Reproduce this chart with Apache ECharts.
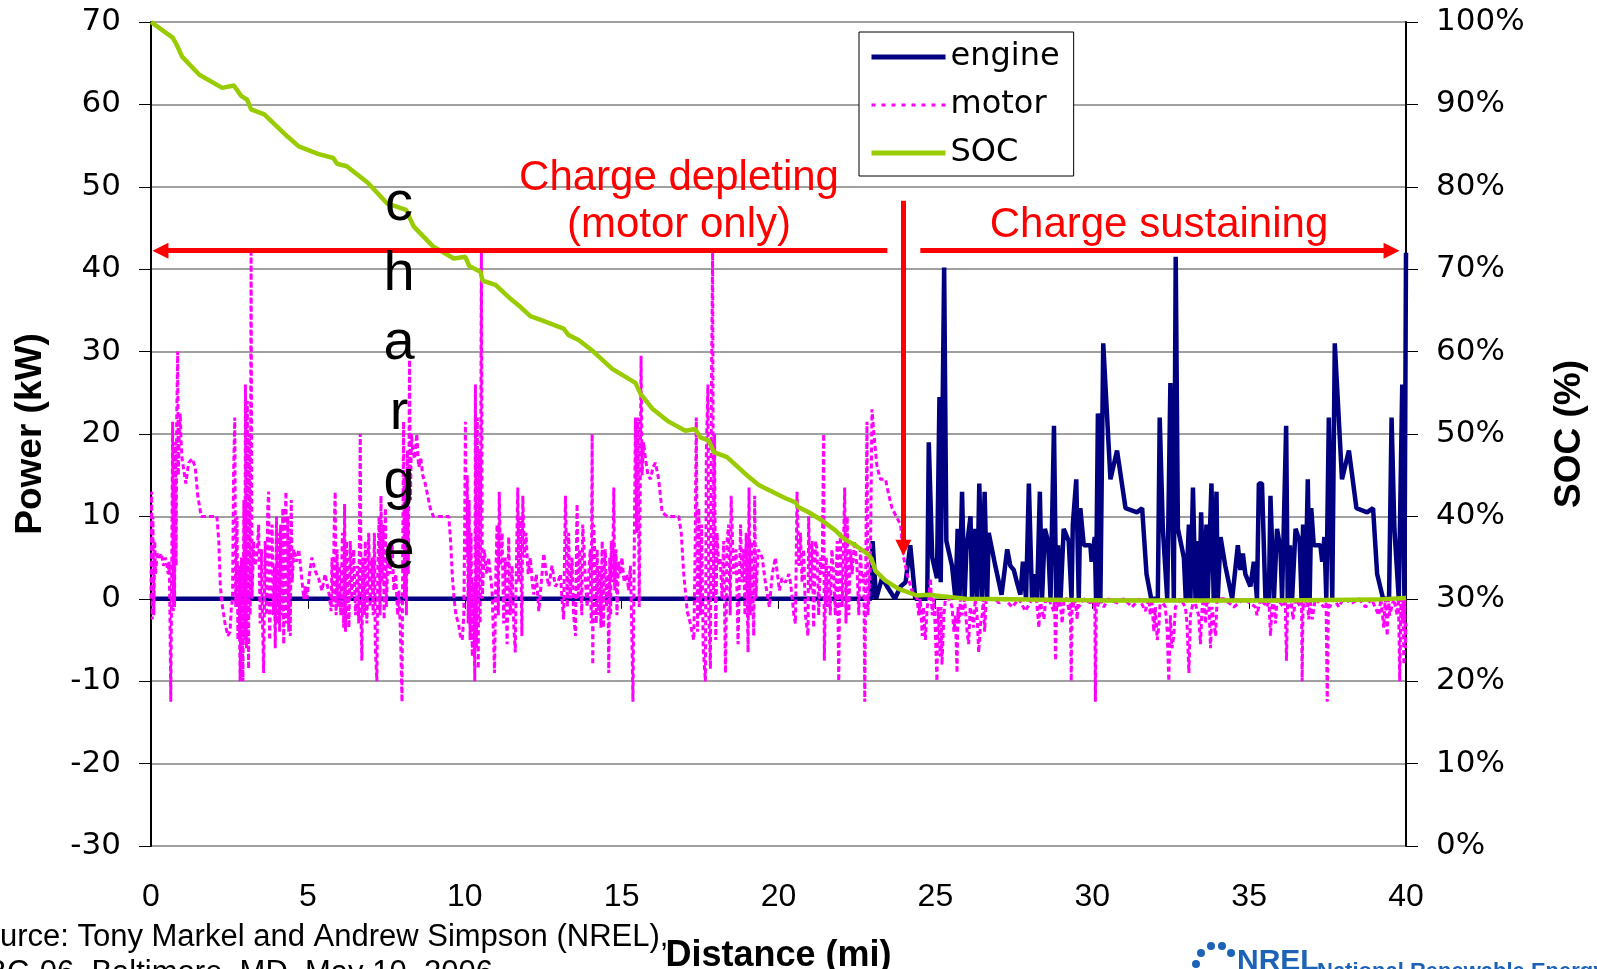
<!DOCTYPE html>
<html>
<head>
<meta charset="utf-8">
<script src="https://cdn.jsdelivr.net/npm/echarts@6/dist/echarts.min.js"></script>
<style>
  html, body { margin: 0; padding: 0; background: #fff; }
  #main { width: 1597px; height: 969px; }
</style>
</head>
<body>
<div id="main"></div>
<script>
// distance (mi) / power (kW)
const enginePower = [
  [0, 0], [22.96, 0], [23.0, 7], [23.11, 0], [23.3, 2.5], [23.46, 1.5], [23.71, 0], [23.89, 1.5], [24.05, 2], [24.2, 6.5],
  [24.36, 0], [24.74, 0], [24.79, 19], [24.9, 5], [25.05, 2.5], [25.13, 24.5], [25.17, 2], [25.28, 40.2], [25.35, 7], [25.53, 4],
  [25.64, 0], [25.71, 8.5], [25.77, 0], [25.85, 13], [25.93, 0], [25.99, 6], [26.12, 10], [26.17, 0], [26.26, 8.5], [26.33, 0],
  [26.4, 14], [26.49, 0], [26.57, 13], [26.65, 0], [26.7, 8], [26.91, 4], [27.11, 0.5], [27.29, 6], [27.39, 4], [27.5, 3.5],
  [27.6, 2], [27.71, 0.5], [27.79, 4.5], [27.89, 0], [27.98, 14], [28.08, 0], [28.17, 3], [28.24, 0], [28.33, 13], [28.4, 0],
  [28.49, 8.5], [28.59, 7], [28.67, 0], [28.78, 21], [28.85, 0], [28.91, 6.5], [28.99, 0], [29.09, 8.5], [29.25, 7], [29.34, 0],
  [29.38, 9], [29.49, 14.5], [29.57, 0], [29.62, 11], [29.73, 6.5], [29.94, 6.5], [29.98, 4.5], [30.08, 7.5], [30.12, 0], [30.18, 22.5],
  [30.26, 0], [30.35, 31], [30.58, 14.5], [30.79, 18], [31.06, 11], [31.43, 10.5], [31.59, 11], [31.73, 3], [31.88, 0], [32.09, 0],
  [32.15, 22], [32.25, 8.5], [32.39, 0], [32.49, 26.2], [32.6, 0], [32.66, 41.5], [32.73, 8.5], [32.92, 5], [32.98, 0], [33.08, 9],
  [33.13, 0], [33.21, 13.5], [33.29, 0], [33.34, 7], [33.42, 0], [33.47, 10.5], [33.55, 0], [33.64, 9], [33.68, 0], [33.8, 14],
  [33.87, 0], [33.96, 13], [34.0, 0], [34.09, 7.5], [34.24, 4], [34.46, 0], [34.64, 6.5], [34.72, 3.5], [34.8, 5.5], [34.88, 3],
  [35.04, 1.5], [35.15, 4.5], [35.25, 0], [35.31, 14], [35.41, 14], [35.52, 0], [35.57, 3], [35.63, 0], [35.68, 12.5], [35.79, 0],
  [35.89, 8.5], [36.0, 6], [36.05, 0], [36.18, 21], [36.23, 0], [36.3, 6.5], [36.37, 0], [36.48, 8.5], [36.61, 7], [36.67, 0],
  [36.72, 9], [36.79, 0], [36.87, 14.5], [36.93, 0], [36.98, 11], [37.06, 6.5], [37.27, 6.5], [37.33, 4.5], [37.4, 7.5], [37.46, 0],
  [37.54, 22], [37.65, 0], [37.73, 31], [37.96, 14.5], [38.18, 18], [38.42, 11], [38.76, 10.5], [38.95, 11], [39.08, 3], [39.27, 0],
  [39.46, 0], [39.54, 22], [39.63, 8.5], [39.77, 0], [39.88, 26], [39.95, 0], [40.0, 42]
];

const motorPower = [
  [0, 0], [0.02, 13], [0.04, -2.5], [0.06, 10], [0.09, -2], [0.12, 7], [0.14, 3], [0.2, 5.5], [0.26, 5], [0.33, 5.5],
  [0.4, 4], [0.46, 5], [0.51, 4], [0.55, 3], [0.58, 4.5], [0.61, -4], [0.63, -12.5], [0.66, 3], [0.69, 21.5], [0.71, -1.5],
  [0.73, 14], [0.75, -1], [0.78, 19], [0.8, 4], [0.82, 22], [0.85, 30], [0.87, 15], [0.9, 20], [0.93, 22.5], [0.96, 19],
  [0.99, 17], [1.05, 15.5], [1.11, 14], [1.2, 16.5], [1.31, 17], [1.41, 16], [1.49, 12.5], [1.6, 10], [1.75, 10], [1.89, 10],
  [2.0, 10], [2.1, 10], [2.16, 7], [2.21, 1.5], [2.28, -1], [2.36, -3], [2.45, -4.5], [2.52, -4], [2.56, -1], [2.6, 0],
  [2.63, 15], [2.67, 22], [2.7, -1], [2.74, 10], [2.77, -5], [2.8, 4], [2.84, -10], [2.88, 5], [2.93, -10], [2.96, 12],
  [2.99, -5], [3.01, 26], [3.04, -6], [3.07, 24], [3.09, 2], [3.11, -8.5], [3.13, 20], [3.16, -2], [3.19, 42], [3.22, 0],
  [3.27, 7], [3.32, 4], [3.38, 5.5], [3.43, 9], [3.48, -3], [3.52, 6], [3.56, -4], [3.59, -9], [3.62, 2], [3.64, 7],
  [3.68, -2], [3.72, 11], [3.75, 13], [3.78, -5], [3.82, 3], [3.86, 9], [3.9, -2], [3.93, 4], [3.96, -6], [4.0, 10],
  [4.03, -3], [4.07, 8], [4.1, -4], [4.13, 9], [4.17, -2], [4.2, 11], [4.23, -5.5], [4.26, 6], [4.3, 13], [4.33, -3],
  [4.36, 10], [4.39, -4], [4.42, 7], [4.44, -4.5], [4.47, 12], [4.5, 2], [4.55, 6], [4.63, 4.5], [4.71, 6], [4.79, 3],
  [4.87, 0], [4.92, 1.5], [4.97, 0], [5.05, 3], [5.13, 5], [5.22, 3.5], [5.34, 2.5], [5.45, 1], [5.55, 3], [5.61, 3],
  [5.68, 0.5], [5.74, -1.5], [5.77, 5], [5.8, -1], [5.84, 9], [5.87, 13], [5.9, -2], [5.93, 6], [5.96, -1], [6.0, 4],
  [6.05, -2], [6.1, 8], [6.14, -3.5], [6.17, 11.5], [6.2, -4], [6.23, 7], [6.27, 2], [6.31, -3.5], [6.35, 7], [6.4, 0],
  [6.46, 6], [6.52, -2], [6.58, 4], [6.62, -3], [6.67, 20], [6.7, -4], [6.72, -7.5], [6.75, 5], [6.8, -2], [6.83, 7],
  [6.88, -3], [6.94, 8], [6.98, -1], [7.04, 5], [7.08, -2], [7.12, 8], [7.15, -6], [7.2, -10], [7.23, 4], [7.27, 10],
  [7.3, -2], [7.33, 12.5], [7.36, 2], [7.4, 9], [7.43, -2.5], [7.47, 11], [7.5, -1], [7.55, 5], [7.62, 3], [7.68, 7],
  [7.74, 1], [7.8, 3], [7.86, -2], [7.9, 1], [7.95, -4], [8.0, -12.5], [8.03, 10], [8.05, 21.5], [8.08, 0], [8.11, 15],
  [8.14, -2], [8.17, 18], [8.2, 3], [8.24, 29], [8.27, 12], [8.3, 20], [8.34, 18], [8.4, 17], [8.47, 20], [8.53, 16],
  [8.6, 17], [8.66, 15], [8.74, 14], [8.82, 12.5], [8.9, 11], [9.0, 10], [9.17, 10], [9.3, 10], [9.49, 10], [9.55, 7],
  [9.6, 3], [9.66, 0], [9.72, -2], [9.8, -3], [9.86, -4.5], [9.92, -5], [9.97, -2], [10.0, 10], [10.02, 21.5], [10.05, 5],
  [10.08, 15], [10.11, -3], [10.14, 12], [10.17, -5], [10.2, 8], [10.24, -7], [10.28, 2], [10.32, -10], [10.34, 26], [10.37, -6],
  [10.4, 22], [10.43, -8.5], [10.46, 18], [10.49, -3], [10.53, 42], [10.56, 0], [10.62, 6], [10.7, 3], [10.76, 5], [10.82, 5],
  [10.87, 1], [10.91, -4], [10.95, -9], [10.99, 3], [11.03, 9], [11.07, -2], [11.1, 13], [11.14, 4], [11.19, 8], [11.24, -3],
  [11.29, 5], [11.35, -5.5], [11.4, 7.5], [11.45, -2], [11.51, 4], [11.56, -3], [11.61, -6.5], [11.65, 5], [11.69, 13.5], [11.72, 2],
  [11.77, 10], [11.82, -4.5], [11.85, 12.5], [11.9, 5], [11.95, 8], [12.02, 3], [12.09, 5], [12.15, 2], [12.2, 0.5], [12.28, 3],
  [12.36, -1.5], [12.44, 2], [12.52, 5.5], [12.6, 3], [12.68, 1.5], [12.78, 4], [12.89, 1.5], [12.97, 2], [13.05, 3], [13.1, 0],
  [13.15, -2.5], [13.18, 5], [13.21, 12.5], [13.24, 6], [13.27, -1], [13.31, 8], [13.36, 0], [13.42, 5], [13.47, -2], [13.53, -4.5],
  [13.56, 6], [13.58, 11.5], [13.62, 0], [13.66, 6], [13.69, 3], [13.73, -2], [13.76, 9], [13.79, 7], [13.85, 2], [13.9, -1],
  [13.95, 3], [14.0, 6], [14.03, -3], [14.06, 20], [14.08, -8], [14.11, 9], [14.15, 5], [14.19, -3], [14.22, 6], [14.26, -2],
  [14.3, 4], [14.34, -3.5], [14.38, 7], [14.42, -3.5], [14.45, 4], [14.48, 6], [14.52, -1], [14.56, 3], [14.59, -9], [14.62, 5],
  [14.65, -2], [14.67, 7], [14.71, 2], [14.75, 13.5], [14.78, 1], [14.82, 6], [14.85, -2], [14.9, 4.5], [14.96, 3], [15.01, 5],
  [15.08, 2], [15.17, 3], [15.22, 1], [15.28, 4], [15.32, -3], [15.36, -12.5], [15.4, 5], [15.44, 22], [15.48, 8], [15.52, 22],
  [15.56, -1], [15.59, 12], [15.62, 29.5], [15.65, 15], [15.7, 19], [15.76, 17], [15.84, 15], [15.92, 14.5], [16.0, 16], [16.08, 16.5],
  [16.18, 14.5], [16.29, 10.5], [16.45, 10], [16.61, 10], [16.72, 10], [16.82, 10], [16.9, 8], [16.98, 3], [17.03, 1], [17.09, -1.5],
  [17.19, -3], [17.3, -5], [17.34, 5], [17.38, 22], [17.42, -4], [17.46, 11], [17.51, -2], [17.55, 9], [17.6, -6], [17.67, -10],
  [17.7, 18], [17.75, 26], [17.78, -2], [17.83, -8.5], [17.86, 24], [17.9, 42], [17.93, 0], [17.96, 20], [18.0, -5], [18.04, 8],
  [18.09, 4], [18.14, 5], [18.2, 0], [18.25, 7], [18.31, -9], [18.36, 7], [18.41, 9], [18.46, -2], [18.49, 12.5], [18.57, 3],
  [18.65, 6], [18.71, -5.5], [18.79, 9], [18.84, 2], [18.89, 6], [18.93, -2], [18.97, 8], [19.03, -6.5], [19.06, 13.5], [19.1, -2],
  [19.14, 7], [19.21, -4.5], [19.24, 12.5], [19.28, 0], [19.35, 6], [19.48, 5], [19.58, 2], [19.71, -1], [19.8, 3], [19.9, 5],
  [20.03, 1], [20.11, 2.5], [20.22, 2], [20.33, 3], [20.38, 2], [20.44, 0], [20.49, -2], [20.54, -3], [20.59, 13], [20.65, 4],
  [20.7, 8], [20.75, 2], [20.8, 6], [20.86, -2], [20.94, -4.5], [20.96, 10], [21.02, 1], [21.07, 7], [21.12, -3.5], [21.18, 7],
  [21.23, 6], [21.28, -2], [21.34, 5], [21.39, 3], [21.44, 20], [21.46, -7.5], [21.52, 5], [21.56, -1], [21.6, 4], [21.65, -2],
  [21.7, 6], [21.76, 3], [21.81, -2], [21.87, 7], [21.92, -10], [21.97, 8], [22.03, -1], [22.07, 6], [22.11, 13.5], [22.15, -3],
  [22.19, 10], [22.24, -2], [22.29, 6], [22.35, 3], [22.42, 7], [22.5, 4], [22.56, -2], [22.61, 6], [22.66, 2], [22.72, 3],
  [22.75, -12.5], [22.79, 8], [22.82, 21.5], [22.85, -2], [22.88, 0], [22.93, 5], [22.98, 23], [23.04, 20], [23.14, 16], [23.25, 14.5],
  [23.41, 14.5], [23.52, 12.5], [23.62, 11], [23.75, 10], [23.89, 9], [23.99, 5], [24.1, 3], [24.25, 1], [24.42, 0], [24.47, -2],
  [24.52, 0], [24.58, -4.5], [24.62, -1], [24.68, -5], [24.74, -1], [24.79, 0], [24.84, 2.5], [24.9, -2], [24.95, 0], [25.0, -4],
  [25.05, -10], [25.08, -1], [25.11, -3], [25.16, -7], [25.18, -1], [25.21, -8], [25.27, -2], [25.32, 0], [25.45, 0], [25.53, -1],
  [25.59, -4], [25.64, -2], [25.69, -9], [25.72, -1], [25.75, -3], [25.8, 0], [25.85, -2], [25.93, 0], [26.01, -4], [26.06, -5.5],
  [26.11, -1], [26.17, -2], [26.22, -3.5], [26.27, 0], [26.33, -2], [26.38, -6.5], [26.44, -3], [26.49, -2], [26.53, 0], [26.57, -4],
  [26.62, 0], [26.9, 0], [27.02, -0.5], [27.2, 0], [27.45, -1], [27.66, 0], [27.87, -1.5], [28.08, 0], [28.22, 0], [28.3, -3.5],
  [28.34, 0], [28.38, -1], [28.46, -2.5], [28.52, 0], [28.61, 0], [28.77, -1.5], [28.8, 0], [28.83, -7.5], [28.87, 0], [28.91, -1],
  [28.97, 0], [29.04, -3], [29.1, 0], [29.2, 0], [29.27, -2], [29.3, 0], [29.33, -10], [29.36, 0], [29.38, -1], [29.45, 0],
  [29.52, -2.5], [29.55, 0], [29.57, -1], [29.73, 0], [29.94, -0.5], [30.0, 0], [30.05, -1], [30.08, 0], [30.1, -12.5], [30.13, 0],
  [30.16, -1], [30.25, 0], [30.37, -1], [30.5, 0], [30.79, -0.5], [31.0, 0], [31.27, -1], [31.5, 0], [31.69, -1.5], [31.8, 0],
  [31.85, -2], [31.9, 0], [31.96, -4], [32.01, -1], [32.07, -5], [32.12, -3.5], [32.17, 0], [32.33, -1], [32.39, -4], [32.44, -10],
  [32.49, -2], [32.54, -6], [32.6, -4.5], [32.65, -1], [32.8, 0], [32.97, -1], [33.02, -3], [33.08, -9], [33.13, -2], [33.24, 0],
  [33.39, -2], [33.45, -5.5], [33.5, -1], [33.55, 0], [33.61, -3], [33.66, 0], [33.72, -1], [33.77, -6], [33.82, -1], [33.93, -4.5],
  [33.98, 0], [34.2, 0], [34.51, -1], [34.83, 0], [35.2, -1], [35.25, -2], [35.36, 0], [35.57, -1], [35.63, 0], [35.68, -4.5],
  [35.73, -1], [35.78, 0], [35.84, -3], [35.89, 0], [36.1, -1], [36.15, 0], [36.19, -7.5], [36.23, 0], [36.26, -1], [36.33, 0],
  [36.4, -2.5], [36.48, 0], [36.64, -1], [36.67, 0], [36.69, -10], [36.72, 0], [36.76, -1], [36.85, 0], [36.9, -2.5], [36.95, 0],
  [37.01, -2.5], [37.11, 0], [37.38, -1], [37.45, 0], [37.49, -12.5], [37.53, 0], [37.57, -1], [37.7, 0], [37.86, -1], [38.0, 0],
  [38.28, -0.5], [38.5, 0], [38.71, -1], [38.9, 0], [39.13, -2], [39.2, 0], [39.29, -3.5], [39.34, 0], [39.4, -4.5], [39.44, 0],
  [39.48, -2], [39.61, 0], [39.72, -2], [39.76, 0], [39.8, -10], [39.84, 0], [39.88, -3], [39.91, 0], [39.93, -8], [39.96, 0],
  [39.98, -6], [40, -3]
];

// distance (mi) / battery state of charge (%)
const socPercent = [
  [0, 100], [0.69, 98.1], [0.81, 97.3], [0.99, 95.8], [1.54, 93.6], [2.27, 92.0], [2.64, 92.3], [2.88, 91.0], [3.06, 90.6], [3.19, 89.4],
  [3.61, 88.8], [4.35, 86.1], [4.71, 84.9], [5.32, 84.0], [5.81, 83.5], [5.93, 82.8], [6.24, 82.5], [6.91, 80.5], [7.52, 78.0], [8.13, 77.2],
  [8.37, 75.2], [8.98, 72.8], [9.65, 71.3], [10.02, 71.5], [10.14, 70.4], [10.5, 69.7], [10.57, 68.6], [10.98, 68.1], [11.4, 66.6], [11.72, 65.6],
  [12.09, 64.3], [12.46, 63.8], [13.15, 62.8], [13.31, 62.0], [13.63, 61.4], [14.1, 60.0], [14.7, 57.9], [15.44, 56.2], [15.6, 54.9], [15.97, 53.1],
  [16.5, 51.5], [17.03, 50.4], [17.35, 50.6], [17.51, 49.6], [17.78, 49.2], [17.94, 47.8], [18.36, 47.2], [19.05, 44.8], [19.37, 43.8], [19.69, 43.2],
  [20.22, 42.2], [20.54, 41.7], [20.64, 41.1], [20.96, 40.5], [21.39, 39.5], [21.81, 38.3], [22.08, 37.3], [22.45, 36.5], [22.82, 35.5], [22.96, 34.9],
  [23.09, 33.4], [23.41, 32.2], [23.83, 31.2], [24.42, 30.4], [24.79, 30.5], [25.21, 30.3], [25.96, 30.0], [28, 29.9], [30.5, 29.8], [33, 29.8],
  [36, 29.8], [39, 29.9], [40, 30.1]
];

const seriesNames = ['engine', 'motor', 'SOC'];
const xTicks = { min: 0, max: 40, step: 5 };
const powerTicks = { min: -30, max: 70, step: 10 };
const socTicks = { min: 0, max: 100, step: 10 };

// annotation arrows, in [mi, kW]
const depletingArrow = [[0.3, 42.25], [23.47, 42.25]];
const switchArrow = [[23.98, 48.3], [23.98, 6.2]];
const sustainingArrow = [[24.52, 42.25], [39.54, 42.25]];

const FONT = '"Liberation Sans", Arial, sans-serif';
const WIDE = '"DejaVu Sans", "Liberation Sans", sans-serif';
const RED = '#ff0000';
const NAVY = '#000080';
const MAGENTA = '#ff00ff';
const GREEN = '#99cc00';

const chart = echarts.init(document.getElementById('main'));

const option = {
  animation: false,
  backgroundColor: '#fff',
  textStyle: { fontFamily: FONT, color: '#000' },
  grid: { left: 151, right: 191, top: 22, bottom: 123, containLabel: false, outerBoundsMode: 'none' },
  legend: {
    data: [
      { name: seriesNames[0], lineStyle: { width: 5, type: 'solid' } },
      { name: seriesNames[1], lineStyle: { width: 3, type: [4, 6] } },
      { name: seriesNames[2], lineStyle: { width: 5, type: 'solid' } }
    ],
    orient: 'vertical',
    left: 859,
    top: 32,
    itemWidth: 74,
    itemHeight: 2,
    itemGap: 12,
    padding: [7, 14, 5, 10],
    borderColor: '#000',
    borderWidth: 1,
    backgroundColor: '#fff',
    itemStyle: { opacity: 0 },
    textStyle: { fontSize: 32, lineHeight: 36, color: '#000', fontFamily: WIDE }
  },
  xAxis: [
    {
      type: 'value',
      min: xTicks.min,
      max: xTicks.max,
      interval: xTicks.step,
      position: 'bottom',
      axisLine: { show: false, onZero: false },
      axisTick: { show: false },
      splitLine: { show: false },
      axisLabel: { fontSize: 32, color: '#000', margin: 35, fontFamily: FONT },
      name: 'Distance (mi)',
      nameLocation: 'middle',
      nameGap: 92,
      nameTextStyle: { fontSize: 36, fontWeight: 'bold', color: '#000', fontFamily: FONT }
    },
    {
      type: 'value',
      min: xTicks.min,
      max: xTicks.max,
      interval: xTicks.step,
      position: 'bottom',
      axisLine: { show: true, onZero: true, onZeroAxisIndex: 0, lineStyle: { color: '#000', width: 1 } },
      axisTick: { show: true, length: 10, lineStyle: { color: '#000', width: 1 } },
      axisLabel: { show: false },
      splitLine: { show: false }
    }
  ],
  yAxis: [
    {
      type: 'value',
      min: powerTicks.min,
      max: powerTicks.max,
      interval: powerTicks.step,
      position: 'left',
      axisLine: { show: true, onZero: false, lineStyle: { color: '#000', width: 2 } },
      axisTick: { show: true, length: 12, lineStyle: { color: '#000', width: 1 } },
      axisLabel: { fontSize: 31, color: '#000', margin: 30, fontFamily: WIDE },
      splitLine: { show: true, lineStyle: { color: '#808080', width: 1.5 } },
      name: 'Power (kW)',
      nameLocation: 'middle',
      nameRotate: 90,
      nameGap: 102,
      nameTextStyle: { fontSize: 37, fontWeight: 'bold', color: '#000', fontFamily: FONT }
    },
    {
      type: 'value',
      min: socTicks.min,
      max: socTicks.max,
      interval: socTicks.step,
      position: 'right',
      axisLine: { show: true, onZero: false, lineStyle: { color: '#000', width: 2 } },
      axisTick: { show: true, length: 12, lineStyle: { color: '#000', width: 1 } },
      axisLabel: { fontSize: 31, color: '#000', margin: 30, fontFamily: WIDE, formatter: '{value}%' },
      splitLine: { show: false },
      name: 'SOC (%)',
      nameLocation: 'middle',
      nameRotate: 90,
      nameGap: 145,
      nameTextStyle: { fontSize: 37, fontWeight: 'bold', color: '#000', fontFamily: FONT }
    }
  ],
  series: [
    {
      name: 'engine',
      type: 'line',
      xAxisIndex: 0,
      yAxisIndex: 0,
      data: enginePower,
      symbol: 'none',
      itemStyle: { color: NAVY },
      lineStyle: { color: NAVY, width: 4.5 }
    },
    {
      name: 'motor',
      type: 'line',
      xAxisIndex: 0,
      yAxisIndex: 0,
      data: motorPower,
      symbol: 'none',
      itemStyle: { color: MAGENTA },
      lineStyle: { color: MAGENTA, width: 3, type: [5, 3] }
    },
    {
      name: 'SOC',
      type: 'line',
      xAxisIndex: 0,
      yAxisIndex: 1,
      data: socPercent,
      symbol: 'none',
      itemStyle: { color: GREEN },
      lineStyle: { color: GREEN, width: 4.5 }
    },
    {
      name: 'arrows',
      type: 'line',
      xAxisIndex: 0,
      yAxisIndex: 0,
      data: [],
      z: 5,
      markLine: {
        silent: true,
        animation: false,
        symbolSize: 16,
        label: { show: false },
        lineStyle: { color: RED, width: 5, type: 'solid' },
        data: [
          [{ coord: depletingArrow[0], symbol: 'triangle' }, { coord: depletingArrow[1], symbol: 'none' }],
          [{ coord: switchArrow[0], symbol: 'none' }, { coord: switchArrow[1], symbol: 'triangle' }],
          [{ coord: sustainingArrow[0], symbol: 'none' }, { coord: sustainingArrow[1], symbol: 'triangle' }]
        ]
      }
    }
  ],
  graphic: [
    {
      type: 'text', x: 399, y: 170, z: 50,
      style: {
        text: 'c\nh\na\nr\ng\ne', fill: '#000', font: '56px ' + FONT,
        lineHeight: 69.5, align: 'center', verticalAlign: 'top'
      }
    },
    {
      type: 'text', x: 679, y: 178, z: 50,
      style: { text: 'Charge depleting', fill: RED, font: '42px ' + FONT, align: 'center', verticalAlign: 'middle' }
    },
    {
      type: 'text', x: 679, y: 225, z: 50,
      style: { text: '(motor only)', fill: RED, font: '42px ' + FONT, align: 'center', verticalAlign: 'middle' }
    },
    {
      type: 'text', x: 1159, y: 225, z: 50,
      style: { text: 'Charge sustaining', fill: RED, font: '42px ' + FONT, align: 'center', verticalAlign: 'middle' }
    },
    {
      type: 'text', x: -38, y: 937, z: 50,
      style: { text: 'Source: Tony Markel and Andrew Simpson (NREL),', fill: '#000', font: '31px ' + FONT, align: 'left', verticalAlign: 'middle' }
    },
    {
      type: 'text', x: -55, y: 973, z: 50,
      style: { text: 'AABC-06, Baltimore, MD, May 10, 2006', fill: '#000', font: '31px ' + FONT, align: 'left', verticalAlign: 'middle' }
    },
    {
      type: 'group', z: 50,
      children: [
        { type: 'circle', shape: { cx: 1196, cy: 964, r: 4 }, style: { fill: '#1c63b7' } },
        { type: 'circle', shape: { cx: 1201, cy: 953, r: 4 }, style: { fill: '#1c63b7' } },
        { type: 'circle', shape: { cx: 1211, cy: 946, r: 4 }, style: { fill: '#1c63b7' } },
        { type: 'circle', shape: { cx: 1222, cy: 946, r: 4 }, style: { fill: '#1c63b7' } },
        { type: 'circle', shape: { cx: 1231, cy: 953, r: 4 }, style: { fill: '#1c63b7' } },
        { type: 'text', x: 1237, y: 947, style: { text: 'NREL', fill: '#1c63b7', font: 'bold 30px ' + FONT, align: 'left', verticalAlign: 'top' } },
        { type: 'text', x: 1317, y: 961, style: { text: 'National Renewable Energy Laboratory', fill: '#1c63b7', font: 'bold 22px ' + FONT, align: 'left', verticalAlign: 'top' } }
      ]
    }
  ]
};

chart.setOption(option);
</script>
</body>
</html>
